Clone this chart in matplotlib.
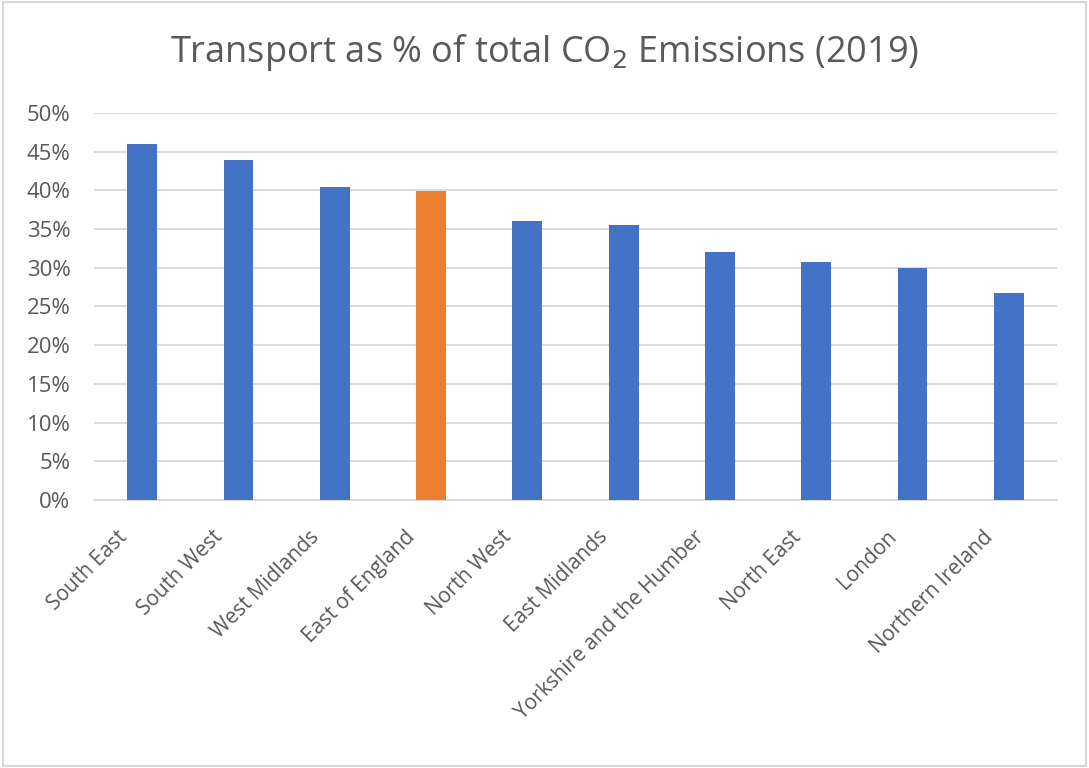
import matplotlib
matplotlib.use('Agg')
import matplotlib.pyplot as plt
from matplotlib import font_manager
from matplotlib.ticker import MultipleLocator, PercentFormatter
from matplotlib.patches import Rectangle
from matplotlib.transforms import ScaledTranslation

# Transport share of total CO2 emissions by region, 2019 (%)
regions = ['South East', 'South West', 'West Midlands', 'East of England',
           'North West', 'East Midlands', 'Yorkshire and the Humber',
           'North East', 'London', 'Northern Ireland']
transport_pct = [46.0, 43.9, 40.4, 39.9, 36.0, 35.5, 32.0, 30.8, 30.0, 26.7]
highlight = 'East of England'

# pick a narrow sans if available, otherwise fall back
installed = {f.name for f in font_manager.fontManager.ttflist}
families = [f for f in ['Liberation Sans Narrow', 'Open Sans', 'DejaVu Sans'] if f in installed]
plt.rcParams['font.family'] = families

blue = '#4472C4'
orange = '#ED7D31'
text_gray = '#595959'
grid_gray = '#D9D9D9'

fig = plt.figure(figsize=(10.89, 7.68), dpi=100)
ax = fig.add_axes([0.0863, 0.349, 0.8843, 0.504])

colors = [orange if r == highlight else blue for r in regions]
x = range(len(regions))
ax.bar(x, transport_pct, width=0.31, color=colors, zorder=3)

ax.set_xlim(-0.5, len(regions) - 0.5)
ax.set_ylim(0, 50)
ax.yaxis.set_major_locator(MultipleLocator(5))
ax.yaxis.set_major_formatter(PercentFormatter(decimals=0))
ax.grid(axis='y', color=grid_gray, linewidth=1.3, zorder=0)

for side in ['top', 'right', 'left']:
    ax.spines[side].set_visible(False)
ax.spines['bottom'].set_color(grid_gray)
ax.spines['bottom'].set_linewidth(1.3)
ax.tick_params(axis='y', length=0, colors=text_gray, labelsize=16, pad=17)
ax.tick_params(axis='x', length=0, colors=text_gray, labelsize=15, pad=12)
ax.set_xticks(list(x))
ax.set_xticklabels(regions, rotation=45, ha='right', rotation_mode='anchor')

# nudge the slanted labels left/down so they hang under the bars
shift = ScaledTranslation(-26 / 100, -10 / 100, fig.dpi_scale_trans)
for lbl in ax.get_xticklabels():
    lbl.set_transform(lbl.get_transform() + shift)

fig.text(0.5, 0.932, 'Transport as % of total CO$_2$ Emissions (2019)',
         ha='center', va='center', fontsize=26, color=text_gray)

# light chart border
fig.patches.append(Rectangle((0.003, 0.003), 0.994, 0.994, transform=fig.transFigure,
                             fill=False, edgecolor='#D9D9D9', linewidth=1.5))

fig.savefig('out.png', dpi=100)
